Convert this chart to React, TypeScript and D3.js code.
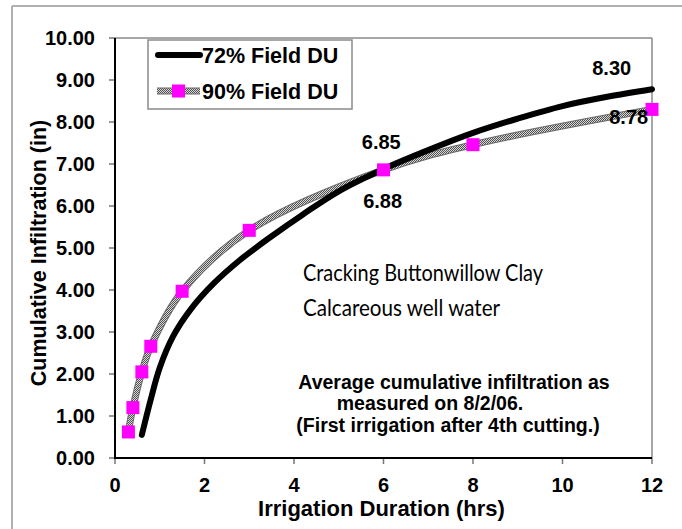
import React from "react";
import * as d3 from "d3";

const duration72 = [0.6, 0.8, 1.0, 1.3, 1.7, 2.2, 2.8, 3.5, 4.2, 5, 6, 7, 8, 9, 10, 11, 12];
const infil72 = [0.55, 1.4, 2.15, 2.9, 3.55, 4.15, 4.72, 5.28, 5.8, 6.35, 6.88, 7.33, 7.74, 8.08, 8.38, 8.6, 8.78];

const duration90 = [0.3, 0.4, 0.6, 0.8, 1.5, 3, 6, 8, 12];
const infil90 = [0.62, 1.2, 2.05, 2.66, 3.97, 5.42, 6.86, 7.46, 8.3];

const xTicks = [0, 2, 4, 6, 8, 10, 12];
const yTicks = [0, 1, 2, 3, 4, 5, 6, 7, 8, 9, 10];

const seriesNames = ["72% Field DU", "90% Field DU"];

const pointLabels = [
  { text: "8.30", x: 11.1, y: 9.13 },
  { text: "8.78", x: 11.48, y: 7.95 },
  { text: "6.85", x: 5.95, y: 7.35 },
  { text: "6.88", x: 5.98, y: 5.95 },
];

const W = 682;
const H = 529;
const M = { left: 115, right: 652, top: 38, bottom: 458 };
const FONT = "'Liberation Sans', Arial, sans-serif";

export default function App() {
  const x = d3.scaleLinear().domain([0, 12]).range([M.left, M.right]);
  const y = d3.scaleLinear().domain([0, 10]).range([M.bottom, M.top]);

  const line = d3
    .line<[number, number]>()
    .x((d) => x(d[0]))
    .y((d) => y(d[1]))
    .curve(d3.curveCatmullRom.alpha(0.5));

  const pts72: [number, number][] = duration72.map((d, i) => [d, infil72[i]]);
  const pts90: [number, number][] = duration90.map((d, i) => [d, infil90[i]]);

  const ms = 13;

  return (
    <svg
      width={W}
      height={H}
      style={{ position: "absolute", left: 0, top: 0, background: "#fff" }}
      fontFamily={FONT}
    >
      <defs>
        <pattern id="checker" width="2" height="2" patternUnits="userSpaceOnUse">
          <rect width="2" height="2" fill="#d8d8d8" />
          <rect width="1" height="1" fill="#505050" />
          <rect x="1" y="1" width="1" height="1" fill="#505050" />
        </pattern>
      </defs>
      <rect width={W} height={H} fill="#fff" />
      {/* outer frame */}
      <line x1={12} y1={6} x2={W} y2={6} stroke="#b0b0b0" strokeWidth={2} />
      <line x1={12} y1={6} x2={12} y2={H} stroke="#b0b0b0" strokeWidth={2} />

      {/* plot border top/right */}
      <line x1={M.left} y1={M.top} x2={M.right} y2={M.top} stroke="#8a8a8a" strokeWidth={1.5} />
      <line x1={M.right} y1={M.top} x2={M.right} y2={M.bottom} stroke="#8a8a8a" strokeWidth={1.5} />

      {/* y ticks & labels */}
      {yTicks.map((t) => (
        <g key={"y" + t}>
          <line x1={M.left - 6} x2={M.left} y1={y(t)} y2={y(t)} stroke="#777" strokeWidth={1.5} />
          <text
            x={95}
            y={y(t)}
            dy="0.36em"
            textAnchor="end"
            fontSize={20}
            fontWeight="bold"
          >
            {t.toFixed(2)}
          </text>
        </g>
      ))}
      {/* x ticks & labels */}
      {xTicks.map((t) => (
        <g key={"x" + t}>
          <line x1={x(t)} x2={x(t)} y1={M.bottom} y2={M.bottom + 6} stroke="#777" strokeWidth={1.5} />
          <text x={x(t)} y={492} textAnchor="middle" fontSize={20} fontWeight="bold">
            {t}
          </text>
        </g>
      ))}

      {/* axes */}
      <line x1={M.left} y1={M.top} x2={M.left} y2={M.bottom + 1} stroke="#000" strokeWidth={2} />
      <line x1={M.left - 1} y1={M.bottom} x2={M.right} y2={M.bottom} stroke="#000" strokeWidth={2} />

      {/* axis titles */}
      <text
        x={(M.left + M.right) / 2 - 2}
        y={516}
        textAnchor="middle"
        fontSize={22}
        fontWeight="bold"
      >
        Irrigation Duration (hrs)
      </text>
      <text
        transform={`translate(46, ${253}) rotate(-90)`}
        textAnchor="middle"
        fontSize={21.5}
        fontWeight="bold"
      >
        Cumulative Infiltration (in)
      </text>

      {/* series */}
      <path d={line(pts90) || ""} fill="none" stroke="#6a6a6a" strokeWidth={7} strokeLinejoin="round" />
      <path d={line(pts90) || ""} fill="none" stroke="url(#checker)" strokeWidth={5} strokeLinejoin="round" />
      <path
        d={line(pts72) || ""}
        fill="none"
        stroke="#000"
        strokeWidth={6}
        strokeLinecap="round"
        strokeLinejoin="round"
      />
      {pts90.map((p, i) => (
        <rect
          key={"m" + i}
          x={x(p[0]) - ms / 2}
          y={y(p[1]) - ms / 2}
          width={ms}
          height={ms}
          fill="#ff00ff"
        />
      ))}

      {/* point labels */}
      {pointLabels.map((l) => (
        <text
          key={l.text}
          x={x(l.x)}
          y={y(l.y)}
          textAnchor="middle"
          fontSize={20}
          fontWeight="bold"
        >
          {l.text}
        </text>
      ))}

      {/* legend */}
      <rect x={148} y={40} width={204} height={69} fill="#fff" stroke="#8a8a8a" strokeWidth={1.5} />
      <line x1={158} x2={200} y1={55} y2={55} stroke="#000" strokeWidth={6} strokeLinecap="round" />
      <text x={202} y={55} dy="0.36em" fontSize={21.5} fontWeight="bold">
        {seriesNames[0]}
      </text>
      <line x1={157} x2={200} y1={91} y2={91} stroke="#6a6a6a" strokeWidth={7} />
      <line x1={157} x2={200} y1={91} y2={91} stroke="url(#checker)" strokeWidth={5} />
      <rect x={178.5 - ms / 2} y={91 - ms / 2} width={ms} height={ms} fill="#ff00ff" />
      <text x={202} y={91} dy="0.36em" fontSize={21.5} fontWeight="bold">
        {seriesNames[1]}
      </text>

      {/* annotations */}
      <text
        x={303}
        y={281}
        fontSize={22.5}
        textLength={240}
        lengthAdjust="spacingAndGlyphs"
        fontFamily="Lato, 'Open Sans', sans-serif"
      >
        Cracking Buttonwillow Clay
      </text>
      <text
        x={303}
        y={316}
        fontSize={22.5}
        textLength={197}
        lengthAdjust="spacingAndGlyphs"
        fontFamily="Lato, 'Open Sans', sans-serif"
      >
        Calcareous well water
      </text>
      <text x={454} y={389} textAnchor="middle" fontSize={19.5} fontWeight="bold">
        Average cumulative infiltration as
      </text>
      <text x={430} y={410} textAnchor="middle" fontSize={19.5} fontWeight="bold">
        measured on 8/2/06.
      </text>
      <text x={448} y={432} textAnchor="middle" fontSize={19.5} fontWeight="bold">
        (First irrigation after 4th cutting.)
      </text>
    </svg>
  );
}
